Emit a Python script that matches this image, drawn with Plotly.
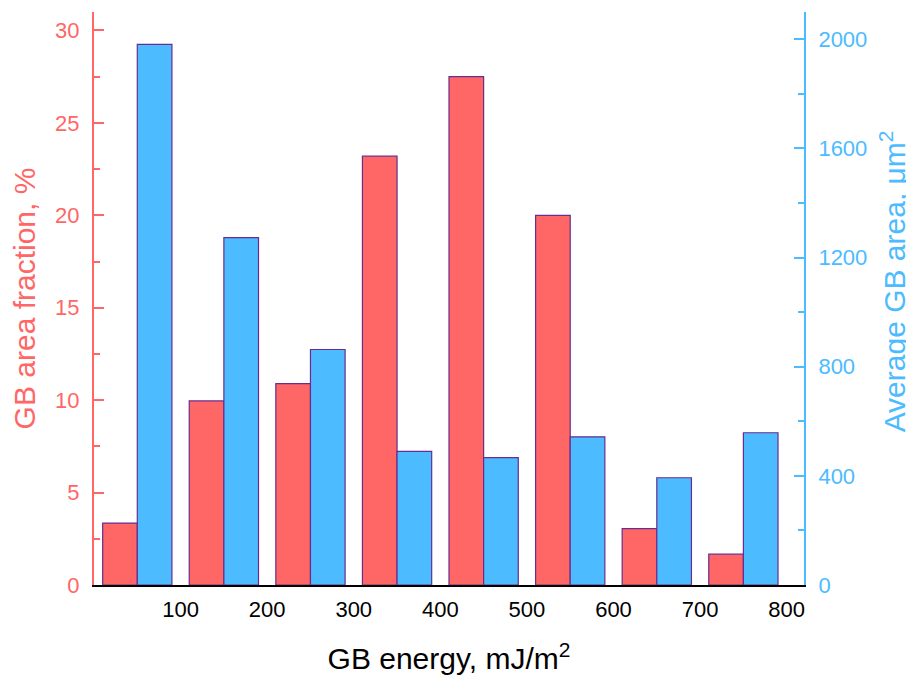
import plotly.graph_objects as go

# ---- data ----
energy_bins = [50, 150, 250, 350, 450, 550, 650, 750]          # bin centres, mJ/m^2
area_fraction = [3.35, 9.96, 10.9, 23.2, 27.5, 20.0, 3.05, 1.67]  # %
avg_area = [1981, 1273, 863, 490, 467, 543, 393, 558]          # um^2
x_tick_vals = [100, 200, 300, 400, 500, 600, 700, 800]

RED = "#FF6666"
BLUE = "#4CBBFF"
EDGE = "#6A2C8E"
FONT = "Liberation Sans, Arial, sans-serif"

fig = go.Figure()
fig.add_trace(go.Bar(
    x=energy_bins, y=area_fraction, width=40, offset=-40,
    marker=dict(color=RED, line=dict(color=EDGE, width=1.2)),
    yaxis="y", name="GB area fraction",
))
fig.add_trace(go.Bar(
    x=energy_bins, y=avg_area, width=40, offset=0,
    marker=dict(color=BLUE, line=dict(color=EDGE, width=1.2)),
    yaxis="y2", name="Average GB area",
))

# the page adds an 8px body margin, so the figure is 8px smaller and shifted
fig.update_layout(
    width=906, height=669,
    margin=dict(l=86, r=110, t=4, b=92, autoexpand=False),
    paper_bgcolor="white", plot_bgcolor="white",
    barmode="overlay", showlegend=False,
    font=dict(family=FONT, size=22, color="black"),
    xaxis=dict(
        range=[0, 820], tickvals=x_tick_vals, ticks="",
        showline=True, linecolor="black", linewidth=1.5,
        showgrid=False, zeroline=False, automargin=False,
        tickfont=dict(size=22, color="black"), ticklabelstandoff=4,
        title=dict(text="GB energy, mJ/m<sup>2</sup>", font=dict(size=30, color="black"), standoff=27),
    ),
    yaxis=dict(
        range=[0, 31], tick0=0, dtick=5, ticks="inside", ticklen=10, tickwidth=2,
        tickcolor=RED, showline=True, linecolor=RED, linewidth=2,
        showgrid=False, zeroline=False, automargin=False,
        tickfont=dict(size=22, color=RED), ticklabelstandoff=8,
        minor=dict(ticks="inside", ticklen=6, tickwidth=2, tickcolor=RED, dtick=2.5),
        title=dict(text="GB area fraction, %", font=dict(size=30, color=RED), standoff=11),
    ),
    yaxis2=dict(
        overlaying="y", side="right",
        range=[0, 2100], tick0=0, dtick=400, ticks="inside", ticklen=10, tickwidth=2,
        tickcolor=BLUE, showline=True, linecolor=BLUE, linewidth=2,
        showgrid=False, zeroline=False, automargin=False,
        tickfont=dict(size=22, color=BLUE), ticklabelstandoff=8,
        minor=dict(ticks="inside", ticklen=6, tickwidth=2, tickcolor=BLUE, dtick=200),
    ),
    annotations=[dict(
        text="Average GB area, μm<sup>2</sup>", textangle=-90,
        xref="paper", yref="paper", x=1.1254, y=0.53,
        xanchor="center", yanchor="middle", showarrow=False,
        font=dict(size=30, color=BLUE, family=FONT),
    )],
)

fig.write_html("out.html")
